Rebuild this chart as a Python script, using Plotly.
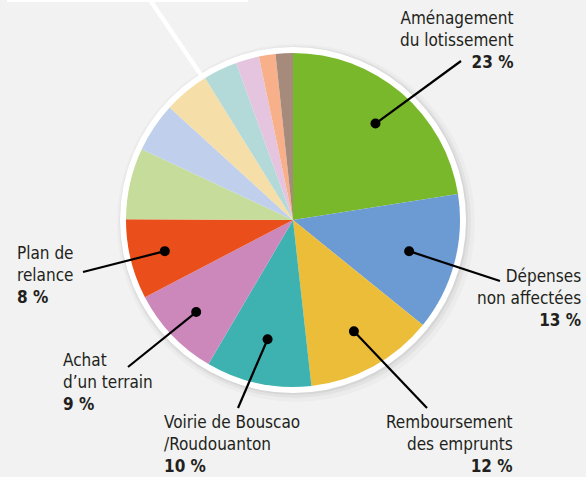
import math
import plotly.graph_objects as go

# ---------------- data ----------------
categories = [
    "Aménagement du lotissement",
    "Dépenses non affectées",
    "Remboursement des emprunts",
    "Voirie de Bouscao /Roudouanton",
    "Achat d'un terrain",
    "Plan de relance",
    "Autre 1", "Autre 2", "Autre 3", "Autre 4", "Autre 5", "Autre 6", "Autre 7",
]
values = [22.5, 13.3, 12.4, 10.2, 8.9, 7.7, 6.9, 4.8, 4.4, 3.3, 2.25, 1.6, 1.67]
colors = [
    "#78b82a", "#6b9bd2", "#ecbd38", "#3db2b1", "#cc88bb", "#e94e1b",
    "#c5dc9b", "#bfcfec", "#f6dea8", "#b3d9d8", "#e5c4e0", "#f7b08a", "#a68b7c",
]
callout_names = [
    "Aménagement<br>du lotissement",
    "Dépenses<br>non affectées",
    "Remboursement<br>des emprunts",
    "Voirie de Bouscao<br>/Roudouanton",
    "Achat<br>d’un terrain",
    "Plan de<br>relance",
]
pct_labels = ["23 %", "13 %", "12 %", "10 %", "9 %", "8 %"]

# ---------------- layout / style ----------------
W, H = 586, 477
CX, CY, R = 293, 220, 167
BG = "#f1f2f1"
TXT = "#231f20"
FONT = "Liberation Sans Narrow, DejaVu Sans Condensed, Roboto, sans-serif"

dot_frac = [0.76, 0.72, 0.76, 0.73, 0.80, 0.79]
line_end = [(461, 61), (500, 281), (427, 408), (238, 408), (128, 367), (83, 272)]
text_pos = [(515, 40, "right"), (583, 298, "right"), (515, 444, "right"),
            (162, 444, "left"), (61, 382, "left"), (15, 275, "left")]

fig = go.Figure()
fig.add_trace(go.Pie(
    labels=categories, values=values, sort=False, direction="clockwise", rotation=0,
    marker=dict(colors=colors, line=dict(width=0)), textinfo="none",
    hoverinfo="label+percent", showlegend=False,
    domain=dict(x=[(CX - R) / W, (CX + R) / W], y=[1 - (CY + R) / H, 1 - (CY - R) / H]),
))
fig.add_trace(go.Scatter(x=[0], y=[0], mode="markers", marker=dict(opacity=0),
                         hoverinfo="skip", showlegend=False))

shapes = []
# shadow + white ring
for r, off, a in [(179, 3, 0.025), (176, 2, 0.04), (174, 1, 0.05)]:
    shapes.append(dict(type="circle", xref="x", yref="y", layer="below",
                       x0=CX - r + off, x1=CX + r + off, y0=CY - r + off, y1=CY + r + off,
                       fillcolor=f"rgba(0,0,0,{a})", line=dict(width=0)))
shapes.append(dict(type="circle", xref="x", yref="y", layer="below",
                   x0=CX - 173, x1=CX + 173, y0=CY - 173, y1=CY + 173,
                   fillcolor="white", line=dict(width=0)))
# white callout from a box above
shapes.append(dict(type="rect", xref="x", yref="y", layer="below",
                   x0=7, x1=248, y0=-5, y1=2, fillcolor="white", line=dict(width=0)))
shapes.append(dict(type="line", xref="x", yref="y", layer="below",
                   x0=150, y0=0, x1=203, y1=78, line=dict(color="white", width=4.5)))

total = sum(values)
cum = 0.0
annotations = []
for i, v in enumerate(values):
    mid = (cum + v / 2) / total * 2 * math.pi
    cum += v
    if i >= len(callout_names):
        continue
    rr = R * dot_frac[i]
    dx = CX + rr * math.sin(mid)
    dy = CY - rr * math.cos(mid)
    ex, ey = line_end[i]
    shapes.append(dict(type="line", xref="x", yref="y", layer="above",
                       x0=dx, y0=dy, x1=ex, y1=ey, line=dict(color="black", width=2.2)))
    shapes.append(dict(type="circle", xref="x", yref="y", layer="above",
                       x0=dx - 5, x1=dx + 5, y0=dy - 5, y1=dy + 5,
                       fillcolor="black", line=dict(width=0)))
    tx, ty, al = text_pos[i]
    annotations.append(dict(
        x=tx, y=ty, xref="x", yref="y", showarrow=False,
        xanchor=al, yanchor="middle", align=al,
        text=f"{callout_names[i]}<br><b>{pct_labels[i]}</b>",
        font=dict(family=FONT, size=17, color=TXT),
    ))

fig.update_layout(
    width=W, height=H, margin=dict(l=0, r=0, t=0, b=0),
    paper_bgcolor=BG, plot_bgcolor=BG,
    xaxis=dict(range=[0, W], visible=False, fixedrange=True),
    yaxis=dict(range=[H, 0], visible=False, fixedrange=True),
    shapes=shapes, annotations=annotations,
    hovermode="closest",
)
fig.write_html(
    "out.html",
    config={"displayModeBar": False},
    post_script="document.body.style.margin='0';document.body.style.overflow='hidden';",
)
